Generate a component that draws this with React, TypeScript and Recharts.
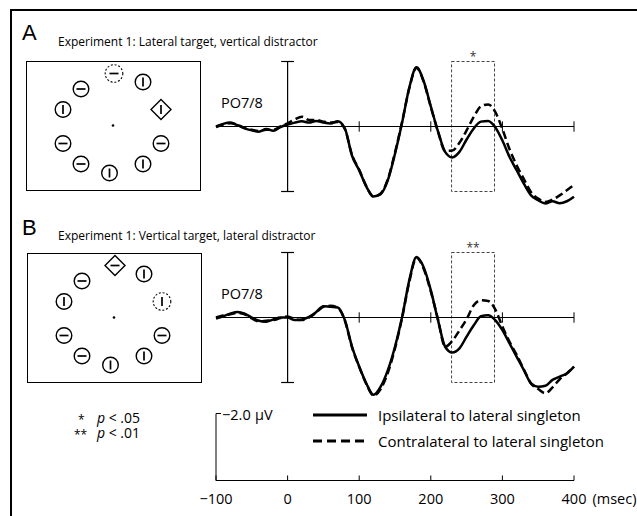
import React from "react";
import {
  LineChart,
  Line,
  XAxis,
  YAxis,
  ReferenceLine,
  ReferenceArea,
  ScatterChart,
  Scatter,
  Legend,
} from "recharts";

// time in msec, amplitude in µV (negative plotted up)
const times = [
  -100, -90, -80, -70, -60, -50, -40, -30, -20, -10, 0, 10, 20, 30, 40, 50, 60,
  70, 80, 90, 100, 110, 120, 130, 140, 150, 160, 170, 180, 190, 200, 210, 220,
  230, 240, 250, 260, 270, 280, 290, 300, 310, 320, 330, 340, 350, 360, 370,
  380, 390, 400,
];

const ipsiA = [
  0.0, -0.08, -0.12, -0.04, 0.06, 0.12, 0.16, 0.08, 0.13, 0.02, -0.06, -0.12,
  -0.16, -0.12, -0.17, -0.12, -0.09, -0.16, 0.06, 0.9, 1.35, 1.85, 2.15, 2.08,
  1.65, 0.84, -0.13, -1.2, -1.82, -1.4, -0.62, 0.15, 0.78, 0.95, 0.78, 0.4,
  0.06, -0.15, -0.17, 0.02, 0.43, 0.94, 1.35, 1.76, 2.12, 2.27, 2.37, 2.3,
  2.36, 2.3, 2.16,
];
const contraA = [
  0.02, -0.06, -0.1, -0.06, 0.05, 0.1, 0.14, 0.1, 0.1, 0.0, -0.1, -0.22, -0.3,
  -0.2, -0.2, -0.15, -0.12, -0.14, 0.08, 0.88, 1.33, 1.84, 2.16, 2.06, 1.62,
  0.8, -0.15, -1.18, -1.8, -1.38, -0.6, 0.15, 0.75, 0.74, 0.5, 0.12, -0.3,
  -0.62, -0.68, -0.45, 0.08, 0.7, 1.2, 1.62, 2.02, 2.22, 2.32, 2.25, 2.12,
  1.96, 1.8,
];
const ipsiB = [
  0.03, -0.04, -0.12, -0.17, -0.12, 0.0, 0.1, 0.13, 0.06, 0.0, 0.0, 0.08, 0.06,
  -0.02, -0.17, -0.35, -0.33, -0.31, 0.08, 0.9, 1.51, 2.03, 2.38, 2.13, 1.62,
  0.9, -0.02, -1.15, -1.86, -1.55, -0.84, 0.08, 0.9, 1.08, 0.95, 0.59, 0.24,
  -0.04, -0.07, 0.08, 0.39, 0.8, 1.21, 1.62, 2.03, 2.13, 2.1, 1.92, 1.82, 1.72,
  1.51,
];
const contraB = [
  0.0, -0.06, -0.1, -0.14, -0.1, 0.03, 0.12, 0.1, 0.08, 0.02, -0.03, 0.05,
  0.08, 0.0, -0.15, -0.33, -0.36, -0.3, 0.1, 0.92, 1.52, 2.05, 2.4, 2.2, 1.7,
  0.95, 0.0, -1.1, -1.84, -1.5, -0.8, 0.05, 0.9, 0.72, 0.4, 0.05, -0.38, -0.53,
  -0.51, -0.25, 0.28, 0.75, 1.15, 1.6, 2.03, 2.2, 2.33, 2.15, 1.9, 1.72, 1.51,
];

const axisTicks = [-100, 0, 100, 200, 300, 400];
const innerTicks = [100, 200, 300, 400];
const sigWindow = [229, 289];
const calibration = -2;
const seriesNames = [
  "Ipsilateral to lateral singleton",
  "Contralateral to lateral singleton",
];

// search display: item positions (radius units), bar orientation, shape
const itemX = [0.02, 0.6, 0.96, 0.96, 0.6, -0.07, -0.64, -1.0, -1.0, -0.64];
const itemY = [1.04, 0.87, 0.32, -0.36, -0.77, -0.95, -0.77, -0.36, 0.32, 0.73];
const itemBar = ["h", "v", "v", "h", "v", "v", "h", "h", "v", "h"];
const shapesA = ["dashed", "circle", "diamond", "circle", "circle", "circle", "circle", "circle", "circle", "circle"];
const shapesB = ["diamond", "circle", "dashed", "circle", "circle", "circle", "circle", "circle", "circle", "circle"];

const FONT = "'Open Sans', sans-serif";

function StimItem(props: any) {
  const { cx, cy, payload } = props;
  if (cx == null || cy == null) return null;
  if (payload.kind === "fix") return <circle cx={cx} cy={cy} r={1.3} fill="#000" />;
  const bar =
    payload.bar === "h" ? (
      <line x1={cx - 4.5} y1={cy} x2={cx + 4.5} y2={cy} stroke="#000" strokeWidth={1.7} />
    ) : (
      <line x1={cx} y1={cy - 4.5} x2={cx} y2={cy + 4.5} stroke="#000" strokeWidth={1.7} />
    );
  let outline;
  if (payload.kind === "diamond") {
    const d = 10;
    outline = (
      <polygon
        points={`${cx},${cy - d} ${cx + d},${cy} ${cx},${cy + d} ${cx - d},${cy}`}
        fill="#fff"
        stroke="#000"
        strokeWidth={1.4}
      />
    );
  } else if (payload.kind === "dashed") {
    outline = <circle cx={cx} cy={cy} r={8.8} fill="#fff" stroke="#000" strokeWidth={1.1} strokeDasharray="2 1.8" />;
  } else {
    outline = <circle cx={cx} cy={cy} r={7.8} fill="#fff" stroke="#000" strokeWidth={1.4} />;
  }
  return (
    <g>
      {outline}
      {bar}
    </g>
  );
}

function Display({ shapes, left, top }: { shapes: string[]; left: number; top: number }) {
  const items = itemX.map((x, i) => ({ x, y: itemY[i], kind: shapes[i], bar: itemBar[i] }));
  const fix = [{ x: 0, y: 0, kind: "fix", bar: "" }];
  return (
    <div
      style={{
        position: "absolute",
        left,
        top,
        width: 175,
        height: 130,
        border: "1.5px solid #000",
        boxSizing: "border-box",
      }}
    >
      <ScatterChart width={172} height={127} margin={{ top: 0, right: 0, bottom: 0, left: 0 }}>
        <XAxis type="number" dataKey="x" domain={[-1.72, 1.72]} hide />
        <YAxis type="number" dataKey="y" domain={[-1.27, 1.27]} hide />
        <Scatter data={items} shape={StimItem} isAnimationActive={false} />
        <Scatter data={fix} shape={StimItem} isAnimationActive={false} />
      </ScatterChart>
    </div>
  );
}

function Waveform({
  ipsi,
  contra,
  star,
  top,
}: {
  ipsi: number[];
  contra: number[];
  star: string;
  top: number;
}) {
  const data = times.map((t, i) => ({ t, ipsi: ipsi[i], contra: contra[i] }));
  return (
    <div style={{ position: "absolute", left: 206, top }}>
      <LineChart width={378} height={169} data={data} margin={{ top: 0, right: 10, bottom: 0, left: 10 }}>
        <XAxis dataKey="t" type="number" domain={[-100, 400]} hide />
        <YAxis type="number" domain={[-2.6, 2.6]} reversed hide />
        <ReferenceLine y={0} stroke="#000" strokeWidth={1} />
        {innerTicks.map((t) => (
          <ReferenceLine
            key={t}
            segment={[
              { x: t, y: -0.16 },
              { x: t, y: 0.16 },
            ]}
            stroke="#000"
            strokeWidth={1}
          />
        ))}
        <ReferenceLine segment={[{ x: 0, y: -2 }, { x: 0, y: 2 }]} stroke="#000" strokeWidth={1.2} />
        <ReferenceLine segment={[{ x: -9, y: -2 }, { x: 9, y: -2 }]} stroke="#000" strokeWidth={1.2} />
        <ReferenceLine segment={[{ x: -9, y: 2 }, { x: 9, y: 2 }]} stroke="#000" strokeWidth={1.2} />
        <ReferenceArea
          x1={sigWindow[0]}
          x2={sigWindow[1]}
          y1={-2}
          y2={2}
          fill="none"
          fillOpacity={0}
          stroke="#444"
          strokeWidth={1}
          strokeDasharray="3 2"
          label={{ value: star, position: "top", offset: 1, fontSize: 12, fill: "#333", fontFamily: FONT }}
        />
        <Line
          dataKey="contra"
          type="monotone"
          stroke="#000"
          strokeWidth={2.5}
          strokeDasharray="8 4"
          dot={false}
          isAnimationActive={false}
        />
        <Line dataKey="ipsi" type="monotone" stroke="#000" strokeWidth={2.5} dot={false} isAnimationActive={false} />
      </LineChart>
    </div>
  );
}

function AxisTick(props: any) {
  const { x, y, payload } = props;
  const last = payload.value === axisTicks[axisTicks.length - 1];
  return (
    <g>
      <text x={x} y={y + 23} textAnchor="middle" fontSize={14.5} fontFamily={FONT} fill="#000">
        {payload.value < 0 ? `\u2212${Math.abs(payload.value)}` : payload.value}
      </text>
      {last && (
        <text x={x + 18.5} y={y + 23} textAnchor="start" fontSize={14.5} fontFamily={FONT} fill="#000">
          (msec)
        </text>
      )}
    </g>
  );
}

function LegendContent() {
  return (
    <div style={{ fontFamily: FONT, fontSize: 15, color: "#000" }}>
      {seriesNames.map((name, i) => (
        <div key={name} style={{ display: "flex", alignItems: "center", height: 26, whiteSpace: "nowrap" }}>
          <svg width={54} height={6} style={{ marginRight: 11 }}>
            <line
              x1={0}
              y1={3}
              x2={54}
              y2={3}
              stroke="#000"
              strokeWidth={3}
              strokeDasharray={i === 1 ? "9 5" : undefined}
            />
          </svg>
          <span>{name}</span>
        </div>
      ))}
    </div>
  );
}

function Calibration() {
  const data = [{ t: -100 }, { t: 400 }];
  return (
    <div style={{ position: "absolute", left: 186, top: 400 }}>
      <LineChart width={451} height={112} data={data} margin={{ top: 13.5, right: 63, bottom: 0, left: 30 }}>
        <XAxis
          dataKey="t"
          type="number"
          domain={[-100, 400]}
          ticks={axisTicks}
          height={31.5}
          axisLine={false}
          tickLine={false}
          tickSize={0}
          tickMargin={0}
          tick={AxisTick}
          interval={0}
        />
        <YAxis type="number" domain={[calibration, 0]} reversed allowDataOverflow hide />
        <ReferenceLine y={0} stroke="#000" strokeWidth={1} ifOverflow="extendDomain" />
        <ReferenceLine
          segment={[
            { x: axisTicks[0], y: calibration },
            { x: axisTicks[0], y: 0 },
          ]}
          stroke="#000"
          strokeWidth={1}
          ifOverflow="extendDomain"
        />
        <ReferenceLine
          segment={[
            { x: axisTicks[0], y: calibration },
            { x: axisTicks[0] + 7, y: calibration },
          ]}
          stroke="#000"
          strokeWidth={1}
          ifOverflow="extendDomain"
        />
        {axisTicks.map((t) => (
          <ReferenceLine
            key={t}
            segment={[
              { x: t, y: 0 },
              { x: t, y: -0.15 },
            ]}
            stroke="#000"
            strokeWidth={1}
            ifOverflow="extendDomain"
          />
        ))}
        <Line dataKey="ipsi" name={seriesNames[0]} stroke="#000" isAnimationActive={false} dot={false} />
        <Line
          dataKey="contra"
          name={seriesNames[1]}
          stroke="#000"
          strokeDasharray="9 5"
          isAnimationActive={false}
          dot={false}
        />
        <Legend
          layout="vertical"
          align="center"
          verticalAlign="middle"
          content={LegendContent}
          wrapperStyle={{ left: 127, top: 2, width: 300, right: "auto", bottom: "auto" }}
        />
      </LineChart>
    </div>
  );
}

export default function App() {
  return (
    <div
      style={{
        position: "absolute",
        left: 0,
        top: 0,
        width: 637,
        height: 516,
        background: "#fff",
        overflow: "hidden",
        fontFamily: FONT,
      }}
    >
      <div
        style={{
          position: "absolute",
          left: 10,
          top: 9,
          width: 640,
          height: 520,
          borderTop: "2px solid #000",
          borderLeft: "2px solid #000",
        }}
      />
      <Display shapes={shapesA} left={26} top={61} />
      <Display shapes={shapesB} left={27} top={252.5} />
      <Waveform ipsi={ipsiA} contra={contraA} star="*" top={41.5} />
      <Waveform ipsi={ipsiB} contra={contraB} star="**" top={233} />
      <Calibration />
      <svg
        width={637}
        height={516}
        style={{ position: "absolute", left: 0, top: 0, pointerEvents: "none" }}
        fontFamily={FONT}
      >
        <text x={22} y={40} fontFamily="'Liberation Sans', Arial, sans-serif" fontSize={22}>
          A
        </text>
        <text x={58} y={46} fontSize={12}>
          Experiment 1: Lateral target, vertical distractor
        </text>
        <text x={22} y={235} fontFamily="'Liberation Sans', Arial, sans-serif" fontSize={22}>
          B
        </text>
        <text x={58} y={240} fontSize={12}>
          Experiment 1: Vertical target, lateral distractor
        </text>
        <text x={221} y={107.5} fontSize={14.5}>
          PO7/8
        </text>
        <text x={221} y={298.5} fontSize={14.5}>
          PO7/8
        </text>
        <text x={222} y={420} fontSize={14.5}>
          {"\u22122.0"}
          <tspan x={255}>µV</tspan>
        </text>
        <text x={78} y={423} fontSize={14}>
          <tspan fontSize={12} dy={1}>*</tspan>
          <tspan x={97} dy={-1} fontStyle="italic">p</tspan>
          <tspan>{" < .05"}</tspan>
        </text>
        <text x={74} y={438} fontSize={14}>
          <tspan fontSize={12} dy={1}>**</tspan>
          <tspan x={97} dy={-1} fontStyle="italic">p</tspan>
          <tspan>{" < .01"}</tspan>
        </text>
      </svg>
    </div>
  );
}
